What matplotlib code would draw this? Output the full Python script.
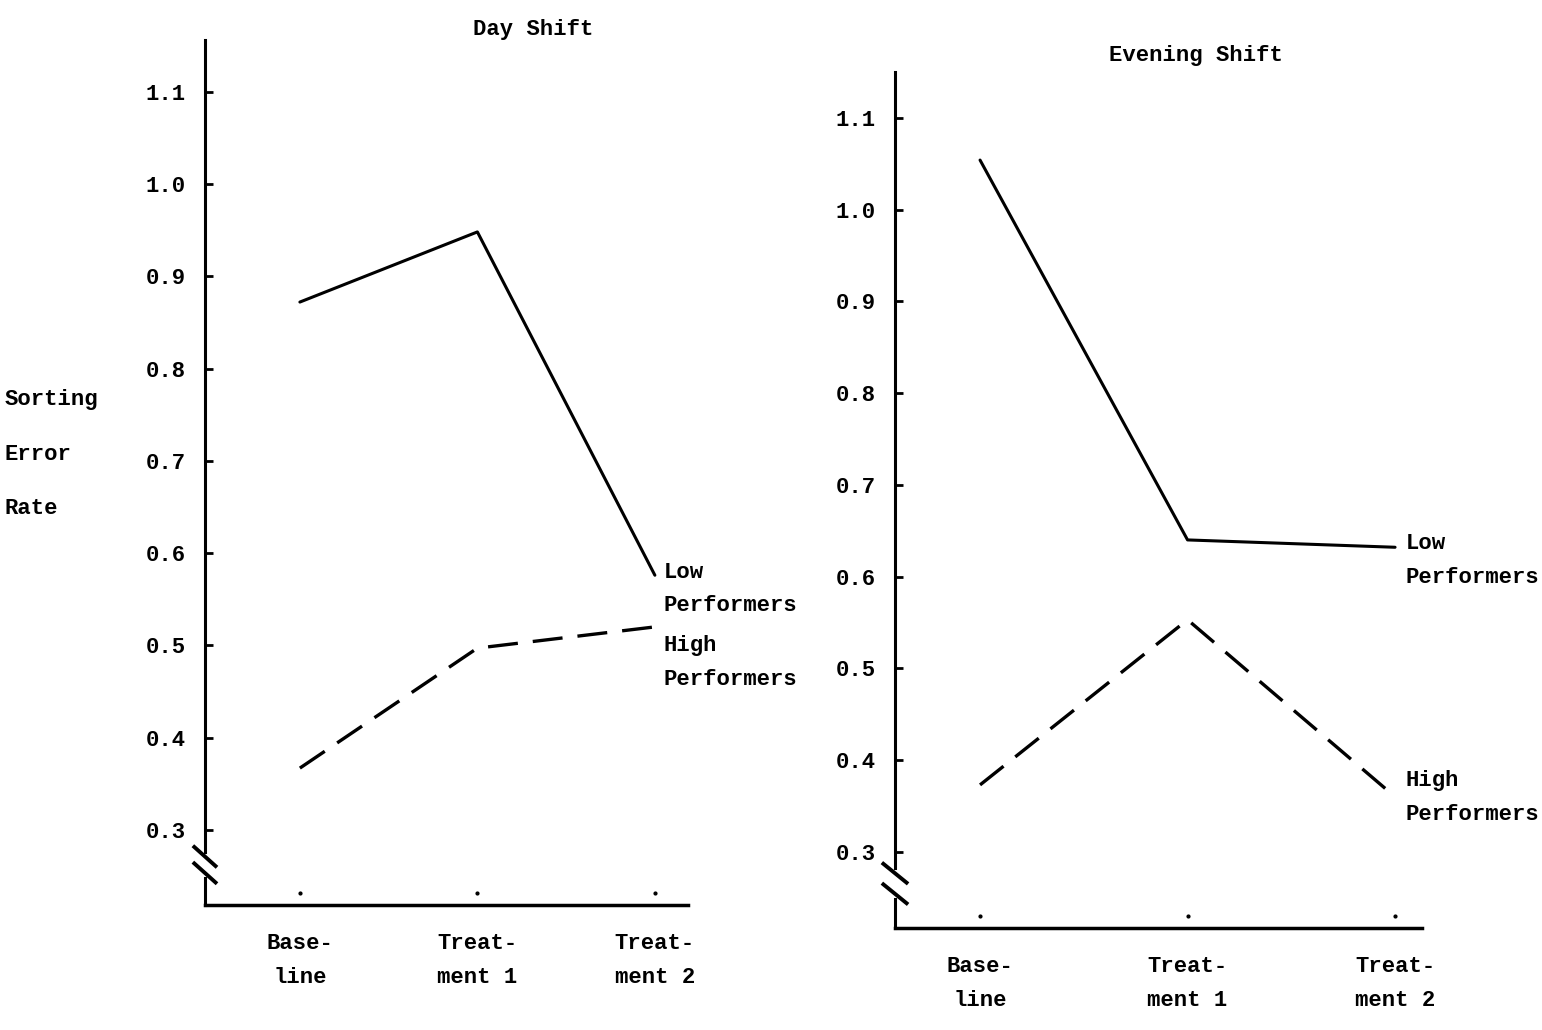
import numpy as np
import matplotlib.pyplot as plt

plt.rcParams['font.family'] = ['Liberation Mono', 'DejaVu Sans Mono']
plt.rcParams['font.weight'] = 'bold'

# data
phases = ['Base-\nline', 'Treat-\nment 1', 'Treat-\nment 2']
yticks = [0.3, 0.4, 0.5, 0.6, 0.7, 0.8, 0.9, 1.0, 1.1]

day_low = [0.872, 0.948, 0.576]
day_high = [0.367, 0.497, 0.520]
eve_low = [1.054, 0.640, 0.632]
eve_high = [0.373, 0.553, 0.360]

fs = 16
fig = plt.figure(figsize=(15.42, 10.30), dpi=100)


def panel(rect, low, high, xlim, ylim, low_lbl_y, high_lbl_y, brk):
    ax = fig.add_axes(rect)
    x = np.arange(len(phases))
    ax.plot(x, low, color='black', lw=2.2, solid_capstyle='round')
    ax.plot(x, high, color='black', lw=2.4, dashes=(9, 4.5))
    ax.set_xlim(*xlim)
    ax.set_ylim(*ylim)
    for s in ['top', 'right']:
        ax.spines[s].set_visible(False)
    ax.spines['left'].set_linewidth(2.2)
    ax.spines['bottom'].set_linewidth(2.5)
    ax.set_yticks(yticks)
    ax.set_yticklabels([f'{v:.1f}' for v in yticks], fontsize=fs)
    ax.tick_params(axis='y', direction='in', length=6, width=2, pad=14)
    ax.set_xticks(x)
    ax.set_xticklabels(phases, fontsize=fs, linespacing=1.8)
    ax.tick_params(axis='x', length=0, pad=20)
    # small dots marking each phase above the axis
    ax.plot(x, [0.014] * len(x), 'k.', ms=4,
            transform=ax.get_xaxis_transform(), clip_on=False)
    # axis break: gap in the spine plus two slanted marks
    ax.plot([0, 0], [brk[1], brk[0]], color='white', lw=5,
            transform=ax.transAxes, clip_on=False, zorder=5)
    for yb in brk:
        ax.plot([-0.022, 0.022], [yb + 0.011, yb - 0.011], color='black', lw=2.8,
                transform=ax.transAxes, clip_on=False, zorder=6)
    ax.text(2.05, low_lbl_y, 'Low\nPerformers', fontsize=fs, va='center',
            linespacing=1.8)
    ax.text(2.05, high_lbl_y, 'High\nPerformers', fontsize=fs, va='center',
            linespacing=1.8)
    return ax


ax1 = panel([0.1329, 0.1214, 0.3132, 0.8398], day_low, day_high,
            (-0.535, 2.186), (0.2187, 1.156), 0.561, 0.481, (0.056, 0.037))
ax2 = panel([0.5804, 0.099, 0.3418, 0.8311], eve_low, eve_high,
            (-0.41, 2.13), (0.217, 1.15), 0.618, 0.359, (0.064, 0.040))

fig.text(533 / 1542, 1 - 30 / 1030, 'Day Shift', fontsize=fs, ha='center', va='center')
fig.text(1196 / 1542, 1 - 56 / 1030, 'Evening Shift', fontsize=fs, ha='center', va='center')
for lbl, yp in zip(['Sorting', 'Error', 'Rate'], [400, 455, 508]):
    fig.text(5 / 1542, 1 - yp / 1030, lbl, fontsize=fs, ha='left', va='center')

fig.savefig('out.png', dpi=100, facecolor='white')
